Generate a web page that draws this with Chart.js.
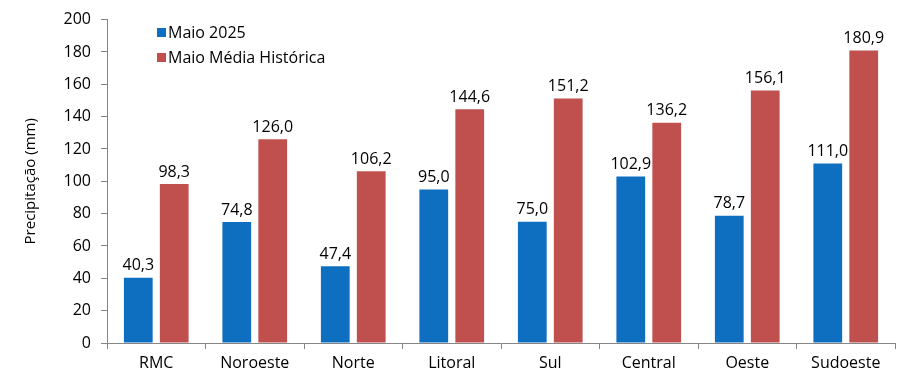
<!DOCTYPE html>
<html>
<head>
<meta charset="utf-8">
<script src="https://cdn.jsdelivr.net/npm/chart.js@4.4.1/dist/chart.umd.min.js"></script>
<style>
  html, body { margin: 0; padding: 0; background: #fff; }
  #wrap { width: 922px; height: 382px; }
</style>
</head>
<body>
<div id="wrap"><canvas id="rainChart" width="922" height="382"></canvas></div>
<script>
const regions = ['RMC', 'Noroeste', 'Norte', 'Litoral', 'Sul', 'Central', 'Oeste', 'Sudoeste'];
const maio2025 = [40.3, 74.8, 47.4, 95.0, 75.0, 102.9, 78.7, 111.0];
const mediaHistorica = [98.3, 126.0, 106.2, 144.6, 151.2, 136.2, 156.1, 180.9];
const seriesNames = ['Maio 2025', 'Maio Média Histórica'];
const yTicks = [0, 20, 40, 60, 80, 100, 120, 140, 160, 180, 200];

const fontFam = "'Open Sans', 'Liberation Sans', sans-serif";
const axisGray = '#868686';

// value labels over each bar
const barLabels = {
    id: 'barLabels',
    afterDatasetsDraw(chart) {
        const c = chart.ctx;
        c.save();
        c.font = '16px ' + fontFam;
        c.fillStyle = '#000';
        c.textAlign = 'center';
        c.textBaseline = 'bottom';
        chart.data.datasets.forEach((ds, i) => {
            chart.getDatasetMeta(i).data.forEach((bar, j) => {
                c.fillText(ds.data[j].toFixed(1).replace('.', ','), bar.x, bar.y - 4);
            });
        });
        c.restore();
    }
};

// legend drawn inside the plot area, top left
const innerLegend = {
    id: 'innerLegend',
    afterDraw(chart) {
        const c = chart.ctx;
        c.save();
        c.font = '16px ' + fontFam;
        c.textBaseline = 'middle';
        chart.data.datasets.forEach((ds, i) => {
            const y = 33 + i * 25;
            c.fillStyle = ds.backgroundColor;
            c.fillRect(157, y - 5, 9, 9);
            c.fillStyle = '#000';
            c.fillText(ds.label, 168, y);
        });
        c.restore();
    }
};

const ctx = document.getElementById('rainChart').getContext('2d');
const rainChart = new Chart(ctx, {
    type: 'bar',
    data: {
        labels: regions,
        datasets: [{
            label: seriesNames[0],
            data: maio2025,
            backgroundColor: '#0E6FC1'
        }, {
            label: seriesNames[1],
            data: mediaHistorica,
            backgroundColor: '#C0504D'
        }]
    },
    options: {
        responsive: false,
        animation: false,
        datasets: { bar: { categoryPercentage: 0.73, barPercentage: 0.8 } },
        layout: { padding: { top: 17, right: 27, left: 0, bottom: 0 } },
        plugins: { legend: { display: false }, tooltip: { enabled: false } },
        scales: {
            x: {
                afterFit(scale) { scale.height = 39; },
                border: { color: axisGray },
                grid: { offset: true, drawOnChartArea: false, color: axisGray, tickLength: 6 },
                ticks: { color: '#000', font: { family: fontFam, size: 16 }, padding: 5 }
            },
            y: {
                min: 0,
                max: 200,
                afterFit(scale) { scale.width = 107; },
                afterBuildTicks(scale) { scale.ticks = yTicks.map(v => ({ value: v })); },
                border: { color: axisGray },
                grid: { drawOnChartArea: false, color: axisGray, tickLength: 6 },
                ticks: { color: '#000', font: { family: fontFam, size: 16 }, padding: 10 },
                title: {
                    display: true,
                    text: 'Precipitação (mm)',
                    color: '#000',
                    font: { family: fontFam, size: 15 },
                    padding: { top: 22, bottom: 0 }
                }
            }
        }
    },
    plugins: [barLabels, innerLegend]
});
</script>
</body>
</html>
